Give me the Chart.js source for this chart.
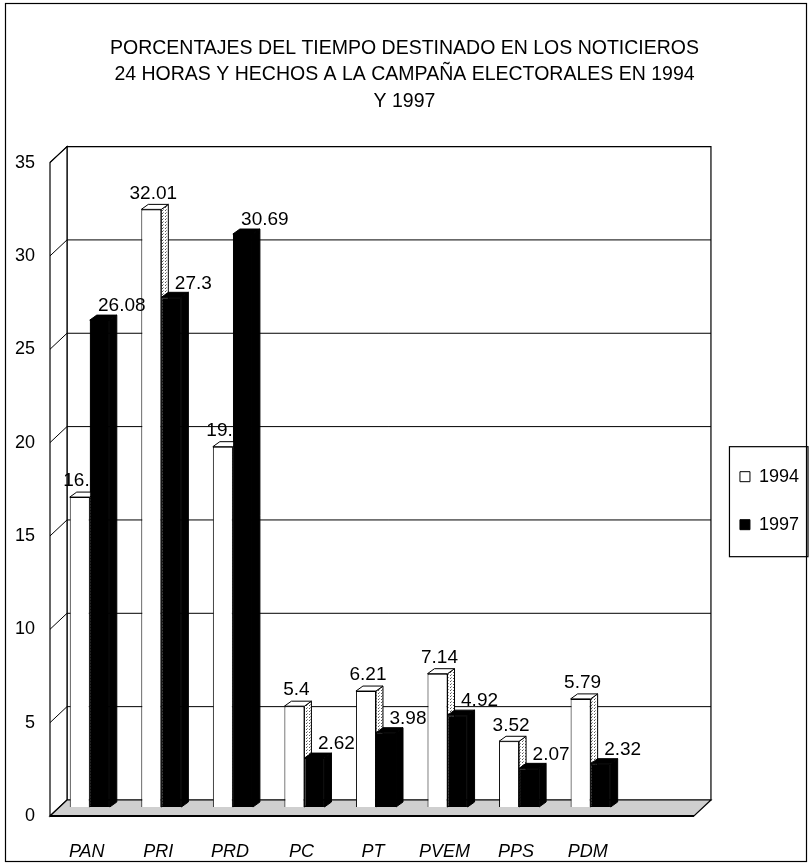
<!DOCTYPE html>
<html>
<head>
<meta charset="utf-8">
<script src="https://cdn.jsdelivr.net/npm/chart.js@4.4.1/dist/chart.umd.min.js"></script>
<style>
  html, body { margin: 0; padding: 0; background: #fff; }
  #wrap { width: 809px; height: 868px; }
</style>
</head>
<body>
<div id="wrap"><canvas id="chart" width="809" height="868"></canvas></div>
<script>
  // Chart data
  const titleLines = [
    'PORCENTAJES DEL TIEMPO DESTINADO EN LOS NOTICIEROS',
    '24 HORAS Y HECHOS A LA CAMPAÑA ELECTORALES EN 1994',
    'Y 1997'
  ];
  const parties = ['PAN', 'PRI', 'PRD', 'PC', 'PT', 'PVEM', 'PPS', 'PDM'];
  const seriesNames = ['1994', '1997'];
  const values1994 = [16.6, 32.01, 19.3, 5.4, 6.21, 7.14, 3.52, 5.79];
  const values1997 = [26.08, 27.3, 30.69, 2.62, 3.98, 4.92, 2.07, 2.32];
  const yMax = 35;
  const yStep = 5;

  const FONT = "'Liberation Sans', Arial, sans-serif";

  // 3D look: offsets of the front edge / back wall from the bar plane
  const FRONT = { dx: -4, dy: 9 };
  const BACK = { dx: 13, dy: -7 };
  const DEPTH = { dx: 7, dy: -5 };

  // dotted texture for the side faces of the white bars
  function makeDots() {
    const c = document.createElement('canvas');
    c.width = 3; c.height = 3;
    const g = c.getContext('2d');
    g.fillStyle = '#fff';
    g.fillRect(0, 0, 3, 3);
    g.fillStyle = '#555';
    g.fillRect(0, 0, 1, 1);
    g.fillStyle = '#999';
    g.fillRect(1, 2, 1, 1);
    return c;
  }

  const walls3d = {
    id: 'walls3d',
    beforeDatasetsDraw(chart) {
      const { ctx, chartArea: a, scales: { y } } = chart;
      ctx.save();
      ctx.strokeStyle = '#000';
      ctx.lineWidth = 1.2;

      // back wall
      ctx.fillStyle = '#fff';
      ctx.beginPath();
      ctx.rect(a.left + BACK.dx, a.top + BACK.dy, a.right - a.left, a.bottom - a.top);
      ctx.fill();
      ctx.stroke();

      // left side wall
      ctx.beginPath();
      ctx.moveTo(a.left + FRONT.dx, a.top + FRONT.dy);
      ctx.lineTo(a.left + BACK.dx, a.top + BACK.dy);
      ctx.lineTo(a.left + BACK.dx, a.bottom + BACK.dy);
      ctx.lineTo(a.left + FRONT.dx, a.bottom + FRONT.dy);
      ctx.closePath();
      ctx.fill();
      ctx.stroke();

      // gridlines on back wall + side wall
      ctx.lineWidth = 1;
      y.ticks.forEach(t => {
        if (t.value === 0) return;
        const py = y.getPixelForValue(t.value);
        ctx.beginPath();
        ctx.moveTo(a.left + FRONT.dx, py + FRONT.dy);
        ctx.lineTo(a.left + BACK.dx, py + BACK.dy);
        ctx.lineTo(a.right + BACK.dx, py + BACK.dy);
        ctx.stroke();
      });

      // floor
      ctx.fillStyle = '#cfcfcf';
      ctx.beginPath();
      ctx.moveTo(a.left + FRONT.dx, a.bottom + FRONT.dy);
      ctx.lineTo(a.right + FRONT.dx, a.bottom + FRONT.dy);
      ctx.lineTo(a.right + BACK.dx, a.bottom + BACK.dy);
      ctx.lineTo(a.left + BACK.dx, a.bottom + BACK.dy);
      ctx.closePath();
      ctx.fill();
      ctx.lineWidth = 1.2;
      ctx.stroke();
      ctx.lineWidth = 2;
      ctx.beginPath();
      ctx.moveTo(a.left + FRONT.dx, a.bottom + FRONT.dy);
      ctx.lineTo(a.right + FRONT.dx, a.bottom + FRONT.dy);
      ctx.stroke();
      ctx.restore();
    },

    afterDatasetsDraw(chart) {
      const { ctx } = chart;
      const dots = ctx.createPattern(makeDots(), 'repeat');

      function faces(el, dark) {
        const { x, y, base, width } = el.getProps(['x', 'y', 'base', 'width'], true);
        const l = x - width / 2, r = x + width / 2;
        ctx.strokeStyle = '#000';
        ctx.lineWidth = 1;
        // side face
        ctx.fillStyle = dark ? '#000' : dots;
        ctx.beginPath();
        ctx.moveTo(r, y);
        ctx.lineTo(r + DEPTH.dx, y + DEPTH.dy);
        ctx.lineTo(r + DEPTH.dx, base + DEPTH.dy);
        ctx.lineTo(r, base);
        ctx.closePath();
        ctx.fill();
        ctx.stroke();
        // top face
        ctx.fillStyle = dark ? '#000' : '#fff';
        ctx.beginPath();
        ctx.moveTo(l, y);
        ctx.lineTo(l + DEPTH.dx, y + DEPTH.dy);
        ctx.lineTo(r + DEPTH.dx, y + DEPTH.dy);
        ctx.lineTo(r, y);
        ctx.closePath();
        ctx.fill();
        ctx.stroke();
      }

      function labels(meta, values, dx, dy) {
        ctx.fillStyle = '#000';
        ctx.font = '19px ' + FONT;
        ctx.textAlign = 'center';
        ctx.textBaseline = 'middle';
        meta.data.forEach((el, i) => {
          const { x, y } = el.getProps(['x', 'y'], true);
          ctx.fillText(String(values[i]), x + dx, y + dy);
        });
      }

      ctx.save();
      const m0 = chart.getDatasetMeta(0);
      const m1 = chart.getDatasetMeta(1);
      m0.data.forEach(el => faces(el, false));
      labels(m0, values1994, 2, -16);
      // redraw the 1997 bars so they hide what lies behind them
      m1.data.forEach(el => { el.draw(ctx); faces(el, true); });
      labels(m1, values1997, 22, -14);
      ctx.restore();
    },

    afterDraw(chart) {
      const { ctx, legend } = chart;
      ctx.save();
      ctx.strokeStyle = '#000';
      ctx.lineWidth = 1.2;
      // legend frame
      const hb = legend.legendHitBoxes;
      if (hb && hb.length) {
        const top = hb[0].top - 21;
        const bottom = hb[hb.length - 1].top + hb[hb.length - 1].height + 23;
        ctx.strokeRect(hb[0].left - 10.5, top, 808 - (hb[0].left - 10.5), bottom - top);
      }
      // outer frame
      ctx.strokeRect(5.5, 3.5, 801, 858);
      ctx.restore();
    }
  };

  new Chart(document.getElementById('chart'), {
    type: 'bar',
    data: {
      labels: parties.concat(['']),
      datasets: [
        {
          label: seriesNames[0],
          data: values1994,
          backgroundColor: '#fff',
          borderColor: '#000',
          borderWidth: 1
        },
        {
          label: seriesNames[1],
          data: values1997,
          backgroundColor: '#000',
          borderColor: '#000',
          borderWidth: 1
        }
      ]
    },
    options: {
      responsive: false,
      animation: false,
      devicePixelRatio: 1,
      layout: { padding: 0 },
      datasets: { bar: { categoryPercentage: 0.56, barPercentage: 1 } },
      plugins: {
        title: {
          display: true,
          text: titleLines,
          color: '#000',
          font: { family: FONT, size: 19.5, weight: 'normal', lineHeight: 1.36 },
          padding: { top: 35, bottom: 39 }
        },
        legend: {
          position: 'right',
          align: 'center',
          fullSize: false,
          // empty title only pushes the two items down to where they sit in the original
          title: { display: true, text: '', padding: 0, font: { size: 34, lineHeight: 1.2 } },
          labels: {
            boxWidth: 10,
            boxHeight: 10,
            padding: 30,
            color: '#000',
            font: { family: FONT, size: 18 }
          }
        },
        tooltip: { enabled: false }
      },
      scales: {
        x: {
          grid: { display: false },
          border: { display: false },
          ticks: {
            color: '#000',
            font: { family: FONT, size: 18, style: 'italic' },
            padding: 26,
            labelOffset: -3,
            maxRotation: 0,
            autoSkip: false
          },
          afterFit(scale) { scale.height = 61; }
        },
        y: {
          min: 0,
          max: yMax,
          grid: { display: false, drawTicks: false },
          border: { display: false },
          ticks: {
            stepSize: yStep,
            color: '#000',
            font: { family: FONT, size: 18 },
            padding: 19,
            labelOffset: 9
          },
          afterFit(scale) { scale.width = 54; }
        },
        // room for the depth of the back wall, between plot and legend
        depth: {
          type: 'linear',
          position: 'right',
          display: true,
          grid: { display: false, drawTicks: false },
          border: { display: false },
          ticks: { display: false },
          afterFit(scale) { scale.width = 12; }
        }
      }
    },
    plugins: [walls3d]
  });
</script>
</body>
</html>
